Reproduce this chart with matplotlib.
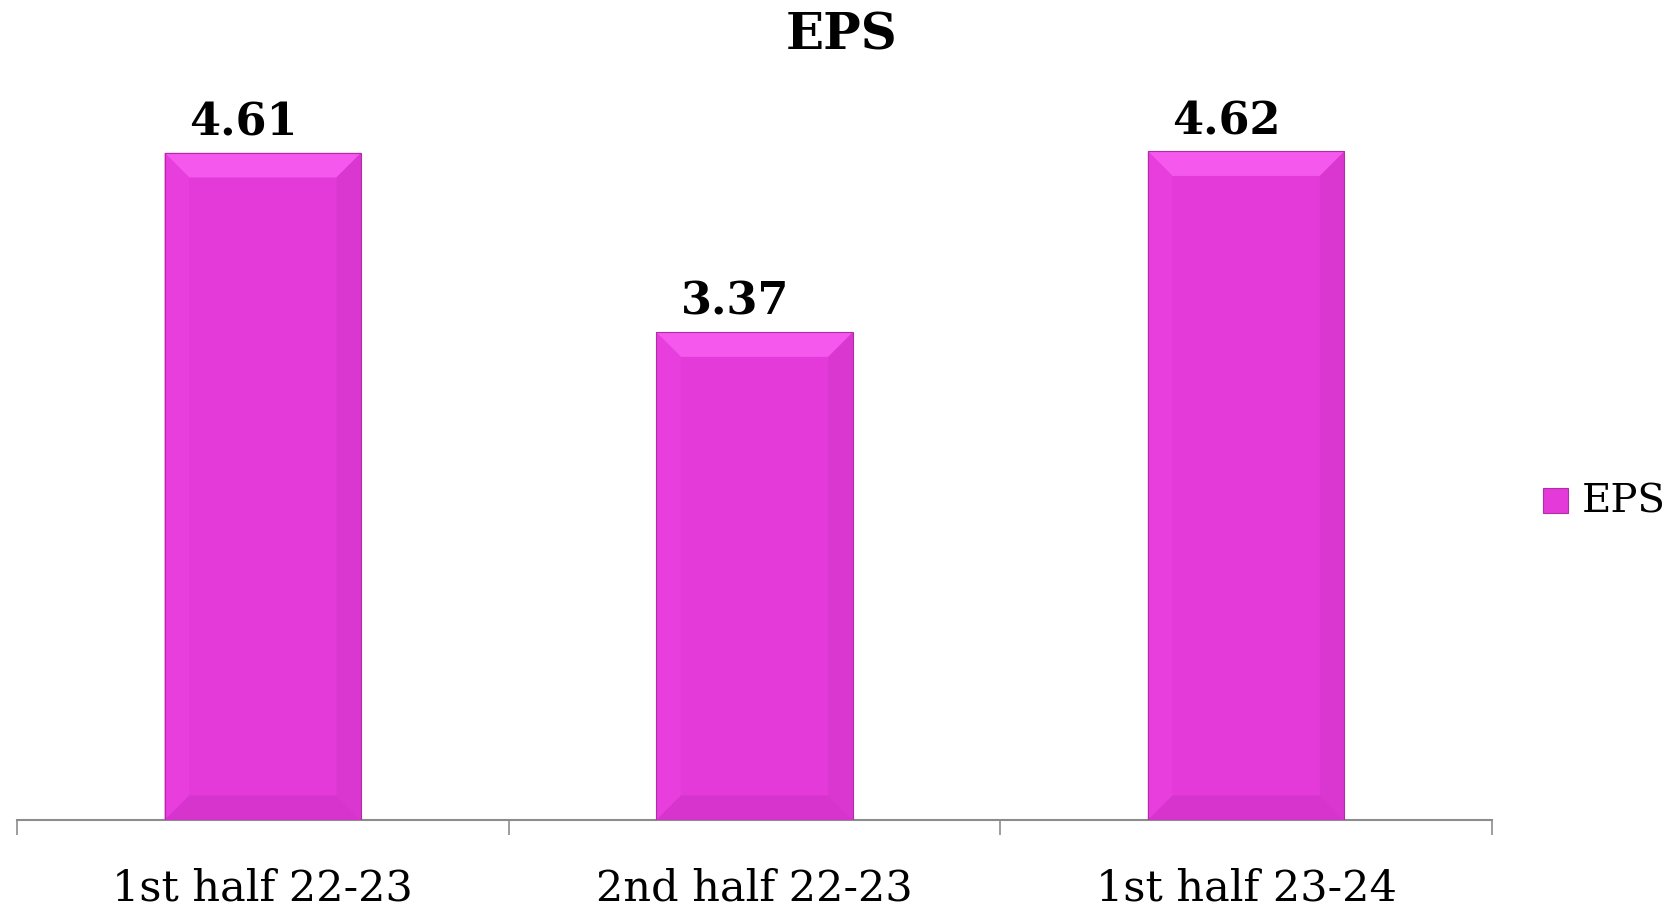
import numpy as np
import matplotlib
matplotlib.use('Agg')
import matplotlib.pyplot as plt
from matplotlib.patches import Polygon, Rectangle

categories = ['1st half 22-23', '2nd half 22-23', '1st half 23-24']
eps = [4.61, 3.37, 4.62]
value_labels = ['4.61', '3.37', '4.62']

plt.rcParams['font.family'] = ['DejaVu Serif']

fig = plt.figure(figsize=(16.73, 9.16), dpi=100)
ax = fig.add_axes([0.0102, 0.1048, 0.8816, 0.79])

x = np.arange(len(categories)) + 0.5
width = 0.40
main_c = '#E43ADA'
top_c = '#F458EC'
bot_c = '#D634CC'
right_c = '#DA36D0'
left_c = '#E73EDD'
edge_c = '#B02DA8'

bx = 0.05   # bevel depth in x data units
by = 0.17   # bevel depth in y data units

for xi, v in zip(x, eps):
    l, r = xi - width / 2, xi + width / 2
    ax.add_patch(Rectangle((l, 0), width, v, facecolor=main_c, edgecolor='none', zorder=2))
    # bevel faces
    ax.add_patch(Polygon([(l, v), (r, v), (r - bx, v - by), (l + bx, v - by)],
                         closed=True, facecolor=top_c, edgecolor='none', zorder=3))
    ax.add_patch(Polygon([(l, 0), (r, 0), (r - bx, by), (l + bx, by)],
                         closed=True, facecolor=bot_c, edgecolor='none', zorder=3))
    ax.add_patch(Polygon([(r, 0), (r, v), (r - bx, v - by), (r - bx, by)],
                         closed=True, facecolor=right_c, edgecolor='none', zorder=3))
    ax.add_patch(Polygon([(l, 0), (l, v), (l + bx, v - by), (l + bx, by)],
                         closed=True, facecolor=left_c, edgecolor='none', zorder=3))
    ax.add_patch(Rectangle((l, 0), width, v, facecolor='none', edgecolor=edge_c,
                           linewidth=0.8, zorder=4))

for xi, v, t in zip(x, eps, value_labels):
    ax.annotate(t, (xi, v), xytext=(-14, 6), textcoords='offset points',
                ha='center', va='bottom', fontsize=32, fontweight='bold', color='black')

ax.set_xlim(0, 3)
ax.set_ylim(0, 5.0)
ax.set_xticks([0, 1, 2, 3])
ax.set_xticklabels([])
ax.tick_params(axis='x', which='major', length=11, width=1.2, color='#8c8c8c', direction='out')
ax.set_xticks(x, minor=True)
ax.set_xticklabels(categories, minor=True, fontsize=31)
ax.tick_params(axis='x', which='minor', length=0, pad=34)
ax.set_yticks([])
for s in ['top', 'right', 'left']:
    ax.spines[s].set_visible(False)
ax.spines['bottom'].set_color('#8c8c8c')
ax.spines['bottom'].set_linewidth(1.5)

fig.text(0.503, 0.961, 'EPS', ha='center', va='center', fontsize=36, fontweight='bold')

# legend
lx0, ly0 = 0.9225, 0.440
fig.patches.append(Rectangle((lx0, ly0), 0.0149, 0.0273, transform=fig.transFigure,
                             facecolor=main_c, edgecolor=edge_c, linewidth=0.8))
fig.text(0.9455, 0.4515, 'EPS', ha='left', va='center', fontsize=29)

fig.savefig('out.png', dpi=100)
